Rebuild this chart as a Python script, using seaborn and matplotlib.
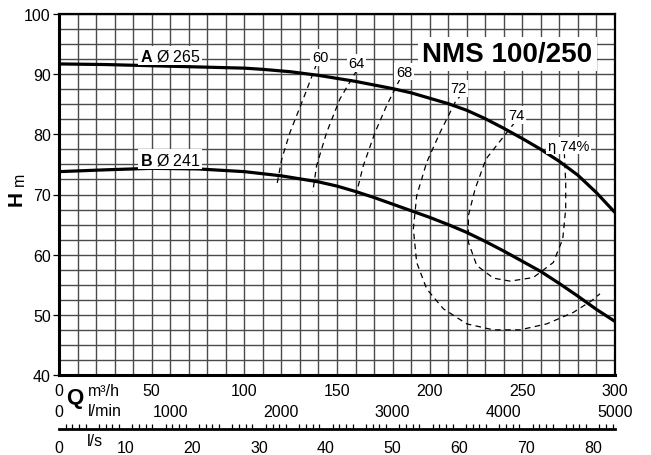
import numpy as np
import pandas as pd
import matplotlib
matplotlib.use("Agg")
import matplotlib.pyplot as plt
import seaborn as sns

# pump curves, Q in m3/h, H in m
Q_A = [0, 25, 50, 75, 100, 110, 125, 140, 160, 180, 190, 200, 210, 220, 230, 240, 250, 260, 270, 280, 290, 300]
H_A = [91.7, 91.6, 91.4, 91.2, 91.0, 90.8, 90.4, 89.8, 88.8, 87.6, 86.9, 86.0, 85.1, 84.0, 82.6, 81.0, 79.3, 77.5, 75.5, 73.2, 70.3, 67.0]

Q_B = [0, 25, 50, 75, 100, 120, 140, 150, 160, 170, 180, 190, 200, 210, 220, 230, 240, 250, 260, 270, 280, 290, 300]
H_B = [73.8, 74.1, 74.35, 74.25, 73.8, 73.1, 72.1, 71.4, 70.5, 69.5, 68.4, 67.3, 66.2, 65.0, 63.7, 62.2, 60.6, 58.9, 57.2, 55.2, 53.1, 50.9, 48.9]

# iso-efficiency curves
Q_E60 = [139.0, 131.8, 124.6, 120.2, 117.5]
H_E60 = [91.7, 85.9, 80.3, 75.9, 71.5]
Q_E64 = [160.6, 151.6, 144.4, 139.0, 136.9]
H_E64 = [90.6, 85.9, 80.3, 74.8, 70.4]
Q_E68 = [184.0, 176.8, 170.5, 164.2, 159.7]
H_E68 = [89.2, 84.8, 80.3, 74.8, 69.25]
Q_E72 = [217.3, 213.7, 205.6, 198.4, 193.0, 191.2, 193.0, 198.4, 207.4, 220.0, 234.4, 248.7, 263.2, 277.5, 287.4, 291.9]
H_E72 = [86.7, 85.3, 80.3, 75.35, 69.8, 64.3, 58.7, 54.3, 51.0, 48.5, 47.5, 47.5, 48.5, 50.4, 52.35, 53.5]
Q_E74 = [246.0, 241.6, 230.4, 224.5, 220.9, 220.9, 225.4, 234.4, 243.4, 255.9, 266.7, 271.8, 273.4, 273.4, 272.7]
H_E74 = [82.0, 80.3, 75.9, 70.9, 66.5, 62.05, 58.2, 56.1, 55.6, 56.2, 58.7, 62.6, 67.6, 72.0, 76.7]

eff_labels = ["60", "64", "68", "72", "74", "η 74%"]
eff_label_q = [140.8, 160.6, 186.2, 215.5, 246.6, 274.8]
eff_label_h = [92.8, 91.86, 90.4, 87.65, 83.2, 78.1]

lmin_ticks = [0, 1000, 2000, 3000, 4000, 5000]
ls_ticks = [0, 10, 20, 30, 40, 50, 60, 70, 80]

sns.set_theme(style="white")
plt.rcParams["font.family"] = ["Liberation Sans", "DejaVu Sans"]
plt.rcParams["mathtext.fontset"] = "custom"
plt.rcParams["mathtext.rm"] = "Liberation Sans"
plt.rcParams["mathtext.bf"] = "Liberation Sans:bold"
plt.rcParams["text.color"] = "black"
plt.rcParams["xtick.color"] = "black"
plt.rcParams["ytick.color"] = "black"

W, Hpx = 651, 456
fig = plt.figure(figsize=(W / 100, Hpx / 100), dpi=100)
fig.patch.set_facecolor("white")

x0, x1 = 59, 615
y_top, y_bot = 15, 376
ax = fig.add_axes([x0 / W, 1 - y_bot / Hpx, (x1 - x0) / W, (y_bot - y_top) / Hpx])
ax.set_facecolor("white")

df_a = pd.DataFrame({"Q": Q_A, "H": H_A})
df_b = pd.DataFrame({"Q": Q_B, "H": H_B})
for df in (df_a, df_b):
    sns.lineplot(data=df, x="Q", y="H", color="black", linewidth=2.3, ax=ax,
                 sort=False, estimator=None, zorder=4)

for qs, hs in [(Q_E60, H_E60), (Q_E64, H_E64), (Q_E68, H_E68), (Q_E72, H_E72), (Q_E74, H_E74)]:
    d = pd.DataFrame({"Q": qs, "H": hs})
    sns.lineplot(data=d, x="Q", y="H", color="black", linewidth=0.9, ax=ax,
                 sort=False, estimator=None, dashes=False, zorder=3,
                 linestyle=(0, (4.5, 3.5)))

box = dict(facecolor="white", edgecolor="none", pad=1.2)
for lab, q, h in zip(eff_labels, eff_label_q, eff_label_h):
    ax.text(q, h, lab, fontsize=10.5, ha="center", va="center", bbox=box, zorder=5)

ax.text(60, 93.1, r"$\mathbf{A}$ Ø 265", fontsize=11.5, ha="center", va="center", bbox=box, zorder=5)
ax.text(60, 75.9, r"$\mathbf{B}$ Ø 241", fontsize=11.5, ha="center", va="center", bbox=box, zorder=5)
ax.text(242, 93.4, "NMS 100/250", fontsize=20, fontweight="bold", ha="center", va="center",
        bbox=dict(facecolor="white", edgecolor="none", pad=3), zorder=5)

ax.set_xlim(0, 300)
ax.set_ylim(40, 100)
ax.set_xticks(np.arange(0, 301, 50))
ax.set_xticks(np.arange(0, 301, 10), minor=True)
ax.set_yticks(np.arange(40, 101, 10))
ax.set_yticks(np.arange(40, 101, 2.5), minor=True)
ax.grid(which="both", color="#4a4a4a", linewidth=1.0, zorder=1)
ax.set_axisbelow(True)
ax.tick_params(axis="x", which="both", length=0, pad=6, labelsize=11.5, colors="black")
ax.tick_params(axis="y", which="major", length=4, width=0.9, pad=2, labelsize=11.5,
               left=True, colors="black")
ax.tick_params(axis="y", which="minor", length=0)
ax.set_xlabel("")
ax.set_ylabel("")
for s in ax.spines.values():
    s.set_visible(True)
    s.set_color("black")
    s.set_linewidth(1.6)
ax.spines["left"].set_linewidth(2.2)
ax.spines["bottom"].set_linewidth(2.2)

# l/min scale (labels only)
ax2 = fig.add_axes([x0 / W, 1 - 405 / Hpx, (x1 - x0) / W, 0.001])
ax2.set_xlim(0, 5000)
ax2.set_xticks(lmin_ticks)
ax2.set_yticks([])
ax2.tick_params(axis="x", length=0, pad=0, labelsize=11.5, colors="black")
for s in ax2.spines.values():
    s.set_visible(False)
ax2.patch.set_alpha(0)

# l/s scale
ax3 = fig.add_axes([x0 / W, 1 - 430 / Hpx, (x1 - x0) / W, 0.001])
ax3.set_xlim(0, 300 / 3.6)
ax3.set_xticks(np.arange(0, 81, 5))
ax3.set_xticklabels([str(v) if v in ls_ticks else "" for v in np.arange(0, 81, 5)])
ax3.set_xticks(np.arange(0, 84, 1), minor=True)
ax3.set_yticks([])
ax3.tick_params(axis="x", which="major", direction="inout", length=8, width=1.0, pad=4,
                labelsize=11.5, colors="black")
ax3.tick_params(axis="x", which="minor", direction="in", length=3.5, width=0.9, bottom=True)
for k, s in ax3.spines.items():
    s.set_visible(k == "bottom")
ax3.spines["bottom"].set_linewidth(2.0)
ax3.spines["bottom"].set_color("black")
ax3.patch.set_alpha(0)

# axis titles
fig.text(75 / W, 1 - 399 / Hpx, "Q", fontsize=16, fontweight="bold", ha="center", va="center")
fig.text(88 / W, 1 - 392 / Hpx, "m³/h", fontsize=11.5, ha="left", va="center")
fig.text(88 / W, 1 - 412 / Hpx, "l/min", fontsize=11.5, ha="left", va="center")
fig.text(87 / W, 1 - 442 / Hpx, "l/s", fontsize=11.5, ha="left", va="center")
fig.text(16 / W, 1 - 199 / Hpx, "H", fontsize=15, fontweight="bold", rotation=90, ha="center", va="center")
fig.text(19 / W, 1 - 179 / Hpx, "m", fontsize=11.5, rotation=90, ha="center", va="center")

fig.savefig("out.png", dpi=100, facecolor="white")
